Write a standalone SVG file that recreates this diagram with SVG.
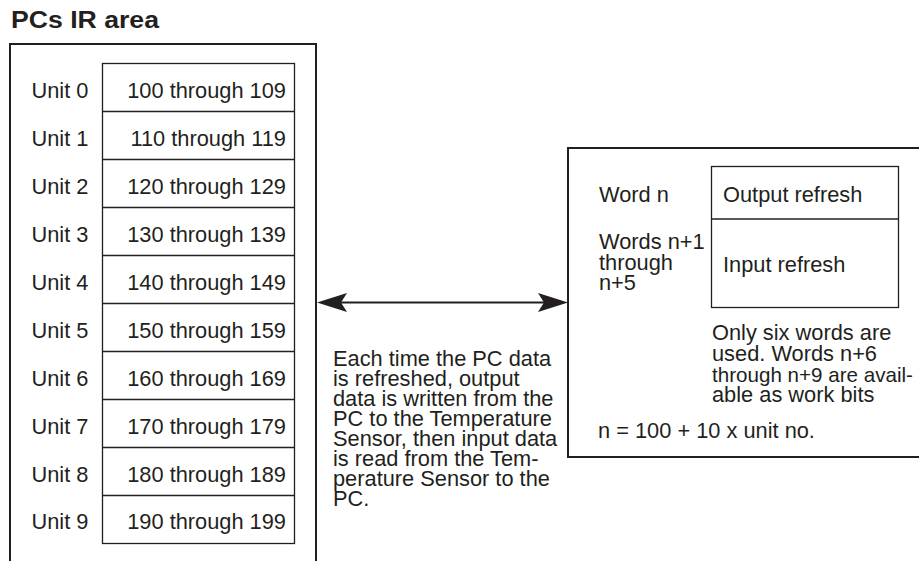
<svg xmlns="http://www.w3.org/2000/svg" width="919" height="561" viewBox="0 0 919 561">
<style>
text{font-family:"Liberation Sans",Arial,sans-serif;font-size:21.8px;fill:#231f20}
.title{font-weight:bold;font-size:23.5px}
.frame{fill:none;stroke:#231f20;stroke-width:2}
.cell{fill:none;stroke:#231f20;stroke-width:1.3}
.num{text-anchor:end}
</style>
<rect width="919" height="561" fill="#fff"/>
<text class="title" x="11" y="28" textLength="148" lengthAdjust="spacingAndGlyphs">PCs IR area</text>
<g id="ir-area">
<path class="frame" d="M10,561 V44 H316 V561"/>
<rect class="cell" x="102.5" y="63.5" width="192" height="480"/>
<path class="cell" d="M102.5,111.5H294.5M102.5,159.5H294.5M102.5,207.5H294.5M102.5,255.5H294.5M102.5,303.5H294.5M102.5,351.5H294.5M102.5,399.5H294.5M102.5,447.5H294.5M102.5,495.5H294.5"/>
<text x="31.5" y="97.5">Unit 0</text><text class="num" x="286" y="97.5">100 through 109</text>
<text x="31.5" y="145.5">Unit 1</text><text class="num" x="286" y="145.5">110 through 119</text>
<text x="31.5" y="193.5">Unit 2</text><text class="num" x="286" y="193.5">120 through 129</text>
<text x="31.5" y="241.5">Unit 3</text><text class="num" x="286" y="241.5">130 through 139</text>
<text x="31.5" y="289.5">Unit 4</text><text class="num" x="286" y="289.5">140 through 149</text>
<text x="31.5" y="337.5">Unit 5</text><text class="num" x="286" y="337.5">150 through 159</text>
<text x="31.5" y="385.5">Unit 6</text><text class="num" x="286" y="385.5">160 through 169</text>
<text x="31.5" y="433.5">Unit 7</text><text class="num" x="286" y="433.5">170 through 179</text>
<text x="31.5" y="481.5">Unit 8</text><text class="num" x="286" y="481.5">180 through 189</text>
<text x="31.5" y="529">Unit 9</text><text class="num" x="286" y="529">190 through 199</text>
</g>
<g id="sensor">
<path class="frame" d="M925,148 H568 V457 H925"/>
<rect class="cell" x="711.5" y="166.5" width="187" height="141"/>
<path class="cell" d="M711.5,219H898.5"/>
<text x="599" y="202">Word n</text>
<text x="723" y="202">Output refresh</text>
<text x="599" y="249">Words n+1</text>
<text x="599" y="269.5">through</text>
<text x="599" y="290">n+5</text>
<text x="723" y="272">Input refresh</text>
<text x="712" y="340">Only six words are</text>
<text x="712" y="361">used. Words n+6</text>
<text x="712" y="381.5" style="font-size:20.6px">through n+9 are avail-</text>
<text x="712" y="401.5">able as work bits</text>
<text x="598" y="438">n = 100 + 10 x unit no.</text>
</g>
<g id="connectors">
<path d="M335,302.5H550" stroke="#231f20" stroke-width="2.2" fill="none"/>
<polygon points="317,302.5 347,293 341,302.5 347,312" fill="#231f20"/>
<polygon points="568,302.5 538,293 544,302.5 538,312" fill="#231f20"/>
</g>
<g id="note">
<text x="333" y="366">Each time the PC data</text>
<text x="333" y="386">is refreshed, output</text>
<text x="333" y="406">data is written from the</text>
<text x="333" y="426">PC to the Temperature</text>
<text x="333" y="446">Sensor, then input data</text>
<text x="333" y="466">is read from the Tem-</text>
<text x="333" y="486">perature Sensor to the</text>
<text x="333" y="506">PC.</text>
</g>
</svg>
